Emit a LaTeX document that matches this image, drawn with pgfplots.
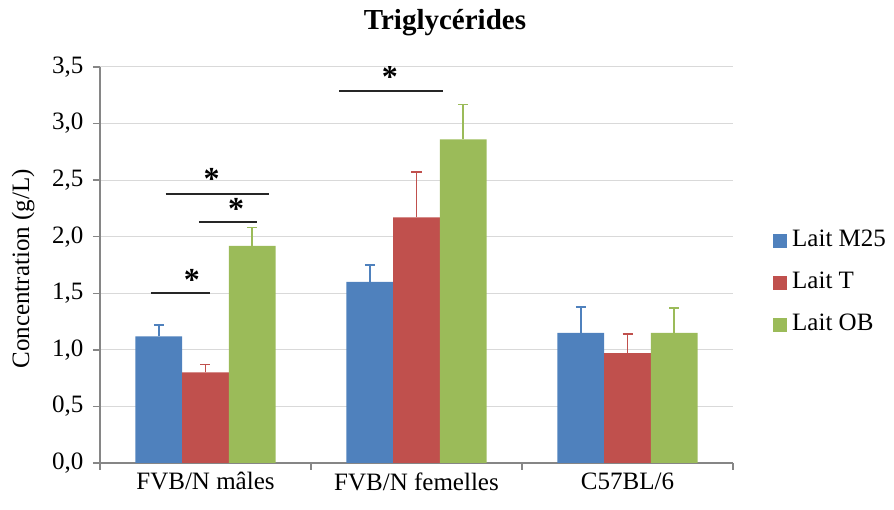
\documentclass[border=0pt]{standalone}
\usepackage{fontspec}
\setmainfont{Liberation Serif}
\usepackage{pgfplots}
\pgfplotsset{compat=1.18}

\definecolor{cblue}{HTML}{4F81BD}
\definecolor{cred}{HTML}{C0504D}
\definecolor{cgreen}{HTML}{9BBB59}
\definecolor{axisgray}{HTML}{868686}
\definecolor{gridgray}{HTML}{D9D9D9}

\newcommand{\txt}{\fontsize{25}{30}\selectfont}

\begin{document}
\begin{tikzpicture}
\useasboundingbox (-100pt,-47pt) rectangle (794pt,463pt);
\begin{axis}[
  scale only axis,
  width=633pt, height=396pt,
  ybar=0pt, bar width=46.7pt,
  xmin=-0.5, xmax=2.5,
  ymin=0, ymax=3.5,
  ytick={0,0.5,...,3.5},
  axis x line=bottom, axis y line=left,
  axis line style={-, draw=axisgray, line width=1.3pt},
  ymajorgrids, grid style={draw=gridgray, line width=1pt},
  tick align=outside, major tick length=7pt,
  tick style={draw=axisgray, line width=1.3pt},
  xtick={-0.5,0.5,1.5,2.5}, xticklabels={},
  extra x ticks={0,1,2},
  extra x tick labels={FVB/N mâles, FVB/N femelles, C57BL/6},
  extra x tick style={major tick length=0pt, grid=none},
  ticklabel style={font=\txt},
  /pgf/number format/assume math mode=true,
  yticklabel={\pgfmathprintnumber[fixed, fixed zerofill, precision=1, use comma]{\tick}},
  yticklabel style={xshift=-6pt},
  xticklabel style={yshift=-6pt},
  ylabel={Concentration (g/L)},
  ylabel style={at={(axis description cs:-0.1216,0.49)}, anchor=center, font=\txt},
  title={Triglycérides},
  title style={at={(axis description cs:0.545,1.098)}, anchor=center,
    font=\fontsize{29}{34}\selectfont\bfseries},
  legend style={at={(axis description cs:1.0632,0.455)}, anchor=west,
    draw=none, fill=none, inner sep=0pt, font=\txt, row sep=18pt,
    column sep=5pt, nodes={inner sep=0pt, text height=18pt, text depth=6pt}},
  legend cell align=left,
  error bars/y dir=plus, error bars/y explicit,
]
\addplot[fill=cblue, draw=none,
  error bars/error bar style={cblue, line width=1.6pt},
  error bars/error mark options={cblue, rotate=90, mark size=5pt, line width=1.6pt},
  legend image code/.code={\fill[cblue] (0pt,-7pt) rectangle (14pt,7pt);}]
  coordinates {(0,1.12) +- (0,0.10) (1,1.60) +- (0,0.15) (2,1.15) +- (0,0.23)};
\addlegendentry{Lait M25}
\addplot[fill=cred, draw=none,
  error bars/error bar style={cred, line width=1.6pt},
  error bars/error mark options={cred, rotate=90, mark size=5pt, line width=1.6pt},
  legend image code/.code={\fill[cred] (0pt,-7pt) rectangle (14pt,7pt);}]
  coordinates {(0,0.80) +- (0,0.07) (1,2.17) +- (0,0.40) (2,0.97) +- (0,0.17)};
\addlegendentry{Lait T}
\addplot[fill=cgreen, draw=none,
  error bars/error bar style={cgreen, line width=1.6pt},
  error bars/error mark options={cgreen, rotate=90, mark size=5pt, line width=1.6pt},
  legend image code/.code={\fill[cgreen] (0pt,-7pt) rectangle (14pt,7pt);}]
  coordinates {(0,1.92) +- (0,0.16) (1,2.86) +- (0,0.31) (2,1.15) +- (0,0.22)};
\addlegendentry{Lait OB}

% significance bars
\tikzset{sig/.style={line width=2.2pt, black!85},
  star/.style={font=\fontsize{32}{34}\selectfont\bfseries, inner sep=0pt}}
\draw[sig] (axis cs:-0.260,1.50) -- (axis cs:0.021,1.50);
\node[star] at (axis cs:-0.065,1.62) {*};
\draw[sig] (axis cs:-0.189,2.378) -- (axis cs:0.301,2.378);
\node[star] at (axis cs:0.029,2.51) {*};
\draw[sig] (axis cs:-0.031,2.128) -- (axis cs:0.243,2.128);
\node[star] at (axis cs:0.145,2.245) {*};
\draw[sig] (axis cs:0.633,3.29) -- (axis cs:1.124,3.29);
\node[star] at (axis cs:0.874,3.415) {*};
\end{axis}
\end{tikzpicture}
\end{document}
